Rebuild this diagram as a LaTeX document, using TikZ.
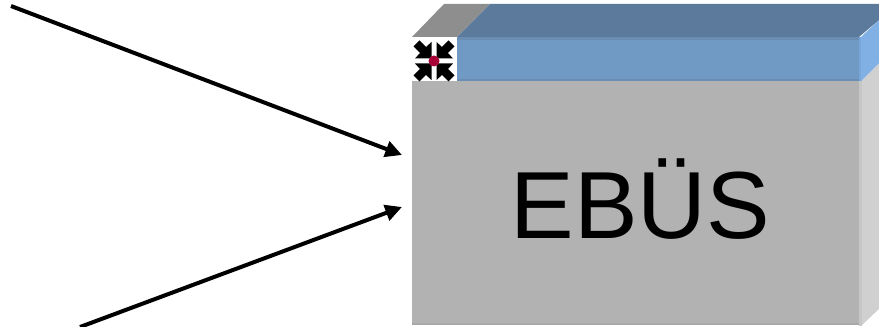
\documentclass[tikz,border=0pt]{standalone}
\usepackage{fontspec}
\setmainfont{Liberation Sans}
\usetikzlibrary{arrows.meta}
\tikzset{
	every face/.style={inner sep=0pt, outer sep=0pt, minimum width=447*0.75pt},
	every link/.style={-{Triangle[length=12.5pt, width=12pt]}, line width=3pt},
}
\definecolor{facegrey}{HTML}{B2B2B2}
\definecolor{sidegrey}{HTML}{D0D0D0}
\definecolor{topgrey}{HTML}{8E8E8E}
\definecolor{facelight}{HTML}{C6C6C6}
\definecolor{faceline}{HTML}{A8A8A8}
\definecolor{tabblue}{HTML}{7099C4}
\definecolor{tabtop}{HTML}{5B7A9C}
\definecolor{tabside}{HTML}{80B0E4}
\definecolor{tabline}{HTML}{6A8DB4}
\definecolor{tablight}{HTML}{78A6D8}
\definecolor{hubred}{HTML}{A80036}

\begin{document}
\begin{tikzpicture}[x=0.75pt, y=-0.75pt]
		\useasboundingbox (0,0) rectangle (879,327);
		% box
		\node [every face/.try, fill=facegrey, minimum height=244*0.75pt, anchor=north west] (ebus) at (412,81) {};
		\node [anchor=base, inner sep=0pt] (ebus-text) at (640.5,239) {\fontsize{71.5}{72}\selectfont EBÜS};
		\fill [sidegrey] (861,81) -- (879,63) -- (879,309) -- (861,326) -- cycle;
		\fill [facelight] (859,81) rectangle (861.5,326);
		\fill [faceline] (412,323) rectangle (859,325);
		% tab
		\fill [tabblue] (457,37) rectangle (859,81);
		\fill [tabline] (457,37) rectangle (859,40);
		\fill [tabline] (457,79) rectangle (859,81);
		\fill [tablight] (859,37) rectangle (861.5,81);
		\fill [tabside] (861,37) -- (879,20) -- (879,63) -- (861,81) -- cycle;
		\fill [tabtop] (457,37) -- (490,4) -- (879,4) -- (879,20) -- (859,37) -- cycle;
		\fill [topgrey] (412,37) -- (444,4) -- (490,4) -- (457,37) -- cycle;
		% icon
		\node [fill=white, inner sep=0pt, minimum width=43*0.75pt, minimum height=41*0.75pt, anchor=north west] (icon) at (413,40) {};
		\foreach \a in {0,90,180,270} {
			\fill [black, shift={(434,61)}, rotate=\a]
				(-2.5,-2.5) -- (-2.5,-19) -- (-8,-14) -- (-14.5,-20.5) -- (-20.5,-14.5) -- (-14,-8) -- (-19,-2.5) -- cycle;
		};
		\node [circle, fill=hubred, inner sep=0pt, minimum size=11*0.75pt] (hub) at (434,61) {};
		% links
		\coordinate (a-start) at (11,6);
		\coordinate (b-start) at (80,327);
		\coordinate (a-end) at (402,155);
		\coordinate (b-end) at (402,207);
		\draw [every link/.try] (a-start) -- (a-end);
		\draw [every link/.try] (b-start) -- (b-end);
	\end{tikzpicture}
\end{document}
